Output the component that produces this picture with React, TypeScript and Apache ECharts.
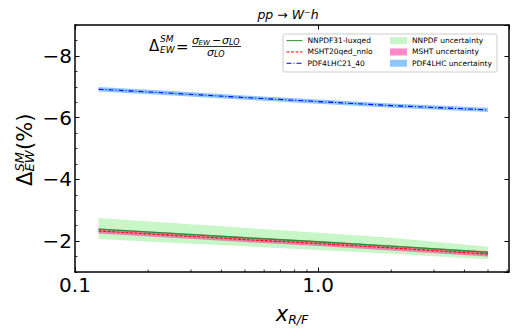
import React, { useEffect, useRef } from 'react';
import * as echarts from 'echarts';

// ---- data ----
const X_VALUES = [0.125, 0.25, 0.5, 1, 2, 5];

const NNPDF_CENTRAL = [-2.39, -2.25, -2.11, -1.98, -1.84, -1.64];
const NNPDF_LOW = [-2.75, -2.59, -2.43, -2.27, -2.11, -1.82];
const NNPDF_HIGH = [-2.07, -1.95, -1.83, -1.71, -1.59, -1.41];

const MSHT_CENTRAL = [-2.33, -2.19, -2.05, -1.92, -1.78, -1.58];
const MSHT_LOW = [-2.41, -2.27, -2.13, -2.0, -1.86, -1.66];
const MSHT_HIGH = [-2.25, -2.11, -1.97, -1.84, -1.7, -1.5];

const PDF4LHC_CENTRAL = [-6.92, -6.79, -6.65, -6.52, -6.39, -6.25];
const PDF4LHC_LOW = [-6.99, -6.86, -6.72, -6.59, -6.46, -6.32];
const PDF4LHC_HIGH = [-6.85, -6.72, -6.58, -6.45, -6.32, -6.18];

const X_MIN = 0.1;
const X_MAX = 6.1;
const Y_MIN = -9;
const Y_MAX = -1;
const X_MINOR_TICKS = [0.2, 0.3, 0.4, 0.5, 0.6, 0.7, 0.8, 0.9, 2, 3, 4, 5, 6];

const LINE_NAMES = ['NNPDF31-luxqed', 'MSHT20qed_nnlo', 'PDF4LHC21_40'];
const BAND_NAMES = ['NNPDF uncertainty', 'MSHT uncertainty', 'PDF4LHC uncertainty'];

const FONT = 'DejaVu Sans';

function bandSeries(name: string, lo: number[], hi: number[], color: string) {
  return {
    type: 'custom',
    name,
    silent: true,
    z: 1,
    itemStyle: { color },
    color,
    data: X_VALUES.map((x, i) => [x, lo[i], hi[i]]),
    encode: { x: 0, y: [1, 2] },
    renderItem: (params: any, api: any) => {
      if (params.dataIndex !== 0) return null;
      const n = params.dataInsideLength;
      const upper: number[][] = [];
      const lower: number[][] = [];
      for (let i = 0; i < n; i++) {
        lower.push(api.coord([api.value(0, i), api.value(1, i)]));
        upper.push(api.coord([api.value(0, i), api.value(2, i)]));
      }
      return {
        type: 'polygon',
        shape: { points: lower.concat(upper.reverse()) },
        style: { fill: color, stroke: 'none' },
      };
    },
  };
}

function lineSeries(name: string, values: number[], color: string, type: any, width: number) {
  return {
    type: 'line',
    name,
    data: X_VALUES.map((x, i) => [x, values[i]]),
    symbol: 'none',
    lineStyle: { color, width, type },
    itemStyle: { color },
    color,
    z: 3,
  };
}

const minus = (v: number) => (v < 0 ? '\u2212' + Math.abs(v) : String(v));

export default function App() {
  const ref = useRef<HTMLDivElement>(null);
  useEffect(() => {
    document.body.style.margin = '0';
    const chart = echarts.init(ref.current!, null, { renderer: 'svg' });
    const option: any = {
      animation: false,
      backgroundColor: '#fff',
      textStyle: { fontFamily: FONT },
      grid: { left: 75, right: 8, top: 25, bottom: 59 },
      xAxis: [
        {
          type: 'log',
          logBase: 10,
          min: X_MIN,
          max: X_MAX,
          position: 'bottom',
          axisLine: { lineStyle: { color: '#000', width: 1.5 } },
          axisTick: { inside: true, length: 4.5, lineStyle: { color: '#000', width: 1 } },
          axisLabel: {
            fontSize: 20,
            color: '#000',
            fontFamily: FONT,
            margin: 3,
            showMaxLabel: false,
            formatter: (v: number) => Number(v).toFixed(1),
          },
          splitLine: { show: false },
          minorTick: { show: false },
          name: '{x|x}{s|R/F}',
          nameLocation: 'middle',
          nameGap: 30,
          nameTextStyle: {
            color: '#000',
            rich: {
              x: { fontSize: 21, fontStyle: 'italic', fontFamily: FONT, lineHeight: 24, color: '#000' },
              s: { fontSize: 12.5, fontStyle: 'italic', fontFamily: FONT, lineHeight: 14, verticalAlign: 'bottom', color: '#000' },
            },
          },
        },
        {
          type: 'log',
          logBase: 10,
          min: X_MIN,
          max: X_MAX,
          position: 'top',
          axisLine: { lineStyle: { color: '#000', width: 1.5 } },
          axisTick: { inside: true, length: 4.5, lineStyle: { color: '#000', width: 1 } },
          axisLabel: { show: false },
          splitLine: { show: false },
        },
      ],
      yAxis: [
        {
          type: 'value',
          min: Y_MIN,
          max: Y_MAX,
          inverse: true,
          minInterval: 2,
          maxInterval: 2,
          position: 'left',
          axisLine: { show: true, lineStyle: { color: '#000', width: 1.5 } },
          axisTick: { show: true, inside: true, length: 4.5, lineStyle: { color: '#000', width: 1 } },
          axisLabel: {
            fontSize: 20,
            color: '#000',
            fontFamily: FONT,
            margin: 3,
            showMinLabel: false,
            showMaxLabel: false,
            formatter: minus,
          },
          splitLine: { show: false },
        },
        {
          type: 'value',
          min: Y_MIN,
          max: Y_MAX,
          inverse: true,
          interval: 0.5,
          position: 'left',
          axisLine: { show: false },
          axisTick: { show: true, inside: true, length: 2.5, lineStyle: { color: '#000', width: 0.8 } },
          axisLabel: { show: false },
          splitLine: { show: false },
        },
        {
          type: 'value',
          min: Y_MIN,
          max: Y_MAX,
          inverse: true,
          minInterval: 2,
          maxInterval: 2,
          position: 'right',
          axisLine: { show: true, lineStyle: { color: '#000', width: 1.5 } },
          axisTick: { show: true, inside: true, length: 4.5, lineStyle: { color: '#000', width: 1 } },
          axisLabel: { show: false },
          splitLine: { show: false },
        },
      ],
      legend: [
        {
          data: LINE_NAMES,
          orient: 'vertical',
          left: 286,
          top: 36.5,
          itemWidth: 16,
          itemHeight: 8.3,
          itemGap: 3,
          padding: 0,
          selectedMode: false,
          itemStyle: { opacity: 0 },
          lineStyle: { width: 1 },
          textStyle: { fontSize: 7.5, color: '#000', fontFamily: FONT, lineHeight: 8.3 },
          z: 6,
        },
        {
          data: BAND_NAMES.map((n) => ({ name: n, icon: 'rect' })),
          orient: 'vertical',
          left: 390,
          top: 36.5,
          itemWidth: 17,
          itemHeight: 7,
          itemGap: 3,
          padding: 0,
          selectedMode: false,
          textStyle: { fontSize: 7.5, color: '#000', fontFamily: FONT, lineHeight: 8.3 },
          z: 6,
        },
      ],
      graphic: [
        {
          type: 'rect',
          z: 5,
          shape: { x: 283, y: 34, width: 214, height: 38, r: 2 },
          style: { fill: 'rgba(255,255,255,0.8)', stroke: '#cccccc', lineWidth: 1 },
        },
        // title
        {
          type: 'text',
          x: 288,
          y: 14,
          style: {
            text: '{i|pp}{n| \u2192 }{i|W}{n|\u207b}{i|h}',
            align: 'center',
            verticalAlign: 'middle',
            fill: '#000',
            rich: {
              i: { fontSize: 12.5, fontStyle: 'italic', fontFamily: FONT, lineHeight: 16, fill: '#000' },
              n: { fontSize: 12.5, fontFamily: FONT, lineHeight: 16, fill: '#000' },
            },
          },
        },
        // formula
        { type: 'text', x: 149, y: 46, style: { text: '\u0394', fontSize: 15, fontFamily: FONT, fill: '#000', align: 'left', verticalAlign: 'middle' } },
        { type: 'text', x: 160, y: 38.5, style: { text: 'SM', fontSize: 9, fontStyle: 'italic', fontFamily: FONT, fill: '#000', align: 'left', verticalAlign: 'middle' } },
        { type: 'text', x: 160, y: 49.5, style: { text: 'EW', fontSize: 9, fontStyle: 'italic', fontFamily: FONT, fill: '#000', align: 'left', verticalAlign: 'middle' } },
        { type: 'text', x: 176, y: 46.5, style: { text: '=', fontSize: 15, fontFamily: FONT, fill: '#000', align: 'left', verticalAlign: 'middle' } },
        { type: 'text', x: 192, y: 40, style: { text: '\u03c3', fontSize: 11, fontStyle: 'italic', fontFamily: FONT, fill: '#000', align: 'left', verticalAlign: 'middle' } },
        { type: 'text', x: 198.5, y: 42.5, style: { text: 'EW', fontSize: 7, fontStyle: 'italic', fontFamily: FONT, fill: '#000', align: 'left', verticalAlign: 'middle' } },
        { type: 'text', x: 212, y: 40, style: { text: '\u2212', fontSize: 11, fontFamily: FONT, fill: '#000', align: 'left', verticalAlign: 'middle' } },
        { type: 'text', x: 222, y: 40, style: { text: '\u03c3', fontSize: 11, fontStyle: 'italic', fontFamily: FONT, fill: '#000', align: 'left', verticalAlign: 'middle' } },
        { type: 'text', x: 229, y: 42.5, style: { text: 'LO', fontSize: 8, fontStyle: 'italic', fontFamily: FONT, fill: '#000', align: 'left', verticalAlign: 'middle' } },
        { type: 'line', shape: { x1: 192, y1: 46.5, x2: 241, y2: 46.5 }, style: { stroke: '#000', lineWidth: 0.8 } },
        { type: 'text', x: 207, y: 52.5, style: { text: '\u03c3', fontSize: 11, fontStyle: 'italic', fontFamily: FONT, fill: '#000', align: 'left', verticalAlign: 'middle' } },
        { type: 'text', x: 214, y: 54.5, style: { text: 'LO', fontSize: 8, fontStyle: 'italic', fontFamily: FONT, fill: '#000', align: 'left', verticalAlign: 'middle' } },
        // y axis title
        {
          type: 'group',
          x: 0,
          y: 150,
          rotation: Math.PI / 2,
          children: [
            { type: 'text', x: -36, y: 24.5, style: { text: '\u0394', fontSize: 21, fontFamily: FONT, fill: '#000', align: 'left', verticalAlign: 'middle' } },
            { type: 'text', x: -21.5, y: 19.5, style: { text: 'SM', fontSize: 13, fontStyle: 'italic', fontFamily: FONT, fill: '#000', align: 'left', verticalAlign: 'middle' } },
            { type: 'text', x: -21.5, y: 29, style: { text: 'EW', fontSize: 13, fontStyle: 'italic', fontFamily: FONT, fill: '#000', align: 'left', verticalAlign: 'middle' } },
            { type: 'text', x: 0, y: 24.5, style: { text: '(%)', fontSize: 21, fontFamily: FONT, fill: '#000', align: 'left', verticalAlign: 'middle' } },
          ],
        },
      ],
      series: [
        bandSeries(BAND_NAMES[0], NNPDF_LOW, NNPDF_HIGH, 'rgba(144,238,144,0.5)'),
        bandSeries(BAND_NAMES[1], MSHT_LOW, MSHT_HIGH, 'rgba(255,20,147,0.5)'),
        bandSeries(BAND_NAMES[2], PDF4LHC_LOW, PDF4LHC_HIGH, 'rgba(30,144,255,0.5)'),
        lineSeries(LINE_NAMES[0], NNPDF_CENTRAL, '#2e8b2e', 'solid', 1.3),
        lineSeries(LINE_NAMES[1], MSHT_CENTRAL, '#ff0000', [3, 1.5], 1.1),
        lineSeries(LINE_NAMES[2], PDF4LHC_CENTRAL, '#0000ff', [5, 2, 1, 2], 1.1),
        {
          type: 'custom',
          silent: true,
          clip: false,
          z: 5,
          data: X_MINOR_TICKS.map((v) => [v, Y_MAX]),
          renderItem: (params: any, api: any) => {
            const p = api.coord([api.value(0), api.value(1)]);
            return {
              type: 'line',
              shape: { x1: p[0], y1: p[1], x2: p[0], y2: p[1] - 2.5 },
              style: { stroke: '#000', lineWidth: 0.8 },
            };
          },
        },
      ],
    };
    chart.setOption(option);
    return () => chart.dispose();
  }, []);
  return <div ref={ref} style={{ width: 517, height: 331 }} />;
}
